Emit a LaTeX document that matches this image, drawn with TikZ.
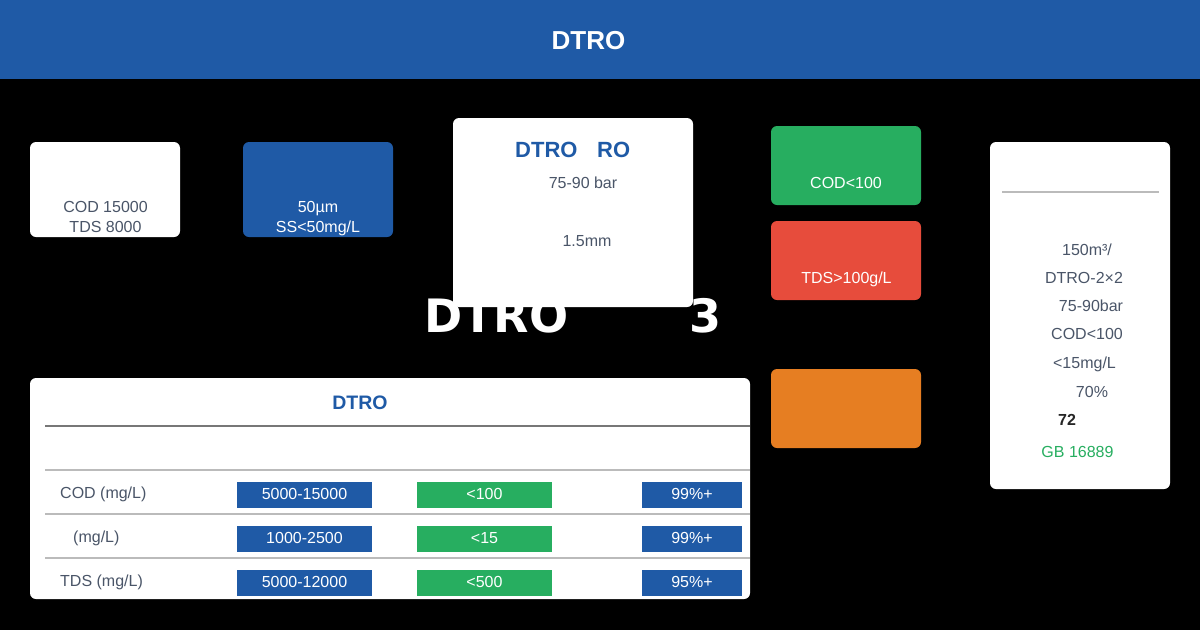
\documentclass[tikz,border=0pt]{standalone}
\usepackage{fontspec}
\setmainfont{Liberation Sans}
\newfontfamily\djv{DejaVu Sans}
\definecolor{hblue}{HTML}{1F5AA6}
\definecolor{cgreen}{HTML}{27AE60}
\definecolor{cred}{HTML}{E74C3C}
\definecolor{corange}{HTML}{E67E22}
\definecolor{tgray}{HTML}{4A5568}
\definecolor{lgray}{HTML}{BBBBBB}
\definecolor{dgray}{HTML}{777777}
\begin{document}
\begin{tikzpicture}[x=1pt,y=-1pt,
  box/.style={draw=none, rounded corners=6pt, inner sep=0pt, outer sep=0pt, anchor=north west},
  cell/.style={draw=none, inner sep=0pt, outer sep=0pt, anchor=north west, minimum height=26pt},
  txt/.style={inner sep=0pt, anchor=base, font=\fontsize{16}{19}\selectfont, text=tgray},
  wtxt/.style={txt, text=white},
  ltxt/.style={txt, anchor=base west},
]
\useasboundingbox (0,0) rectangle (1200,630);
\fill[black] (0,0) rectangle (1200,630);
% header
\fill[hblue] (0,0) rectangle (1200,79);
\node[inner sep=0pt, anchor=base, text=white, font=\fontsize{26}{30}\selectfont\bfseries] (title) at (588.5,49) {DTRO};
% big background text
\node[inner sep=0pt, anchor=base west, text=white, font=\djv\fontsize{46}{52}\selectfont\bfseries] (bigA) at (424,332) {DTRO};
\node[inner sep=0pt, anchor=base west, text=white, font=\djv\fontsize{46}{52}\selectfont\bfseries] (bigB) at (689,332) {3};
% box 1
\node[box, fill=white, minimum width=150pt, minimum height=95pt] (b1) at (30,142) {};
\node[txt] (b1a) at (105.5,212) {COD 15000};
\node[txt] (b1b) at (105.5,232) {TDS 8000};
% box 2
\node[box, fill=hblue, minimum width=150pt, minimum height=95pt] (b2) at (243,142) {};
\node[wtxt] (b2a) at (318,212) {50µm};
\node[wtxt] (b2b) at (318,232) {SS<50mg/L};
% box 3
\node[box, fill=white, minimum width=240pt, minimum height=189pt] (b3) at (453,118) {};
\node[inner sep=0pt, anchor=base west, text=hblue, font=\fontsize{22}{26}\selectfont\bfseries] (b3t1) at (515,157) {DTRO};
\node[inner sep=0pt, anchor=base west, text=hblue, font=\fontsize{22}{26}\selectfont\bfseries] (b3t2) at (597,157) {RO};
\node[txt] (b3a) at (583,188) {75-90 bar};
\node[txt] (b3b) at (587,246) {1.5mm};
% green / red / orange
\node[box, fill=cgreen, minimum width=150pt, minimum height=79pt] (g) at (771,126) {};
\node[wtxt] (ga) at (846,188) {COD<100};
\node[box, fill=cred, minimum width=150pt, minimum height=79pt] (r) at (771,221) {};
\node[wtxt] (ra) at (846.5,283) {TDS>100g/L};
\node[box, fill=corange, minimum width=150pt, minimum height=79pt] (o) at (771,369) {};
% right panel
\node[box, fill=white, minimum width=180pt, minimum height=347pt] (rp) at (990,142) {};
\draw[lgray, line width=2pt] (1002,192) -- (1159,192);
\node[txt] (r1) at (1087,255) {150m³/};
\node[txt] (r2) at (1084,283) {DTRO-2×2};
\node[txt] (r3) at (1091,311) {75-90bar};
\node[txt] (r4) at (1087,339) {COD<100};
\node[txt] (r5) at (1084.5,368) {<15mg/L};
\node[txt] (r6) at (1092,397) {70\%};
\node[txt, text=black!85, font=\fontsize{16}{19}\selectfont\bfseries] (r7) at (1067,425) {72};
\node[txt, text=cgreen] (r8) at (1077.5,457) {GB 16889};
% table
\node[box, fill=white, minimum width=720pt, minimum height=221pt] (tb) at (30,378) {};
\node[inner sep=0pt, anchor=base, text=hblue, font=\fontsize{19.5}{23}\selectfont\bfseries] (tt) at (360,409) {DTRO};
\draw[dgray, line width=1.5pt] (45,426) -- (750,426);
\draw[lgray, line width=1.5pt] (45,470) -- (750,470);
\draw[lgray, line width=1.5pt] (45,514) -- (750,514);
\draw[lgray, line width=1.5pt] (45,558) -- (750,558);
% row 1
\node[ltxt] (l1) at (60,498) {COD (mg/L)};
\node[cell, fill=hblue, minimum width=135pt] (c11) at (237,482) {};
\node[cell, fill=cgreen, minimum width=135pt] (c12) at (417,482) {};
\node[cell, fill=hblue, minimum width=100pt] (c13) at (642,482) {};
\node[wtxt] (t11) at (304.5,499) {5000-15000};
\node[wtxt] (t12) at (484.5,499) {<100};
\node[wtxt] (t13) at (692,499) {99\%+};
% row 2
\node[ltxt] (l2) at (73,542) {(mg/L)};
\node[cell, fill=hblue, minimum width=135pt] (c21) at (237,526) {};
\node[cell, fill=cgreen, minimum width=135pt] (c22) at (417,526) {};
\node[cell, fill=hblue, minimum width=100pt] (c23) at (642,526) {};
\node[wtxt] (t21) at (304.5,543) {1000-2500};
\node[wtxt] (t22) at (484.5,543) {<15};
\node[wtxt] (t23) at (692,543) {99\%+};
% row 3
\node[ltxt] (l3) at (60,586) {TDS (mg/L)};
\node[cell, fill=hblue, minimum width=135pt] (c31) at (237,570) {};
\node[cell, fill=cgreen, minimum width=135pt] (c32) at (417,570) {};
\node[cell, fill=hblue, minimum width=100pt] (c33) at (642,570) {};
\node[wtxt] (t31) at (304.5,587) {5000-12000};
\node[wtxt] (t32) at (484.5,587) {<500};
\node[wtxt] (t33) at (692,587) {95\%+};
\end{tikzpicture}
\end{document}
